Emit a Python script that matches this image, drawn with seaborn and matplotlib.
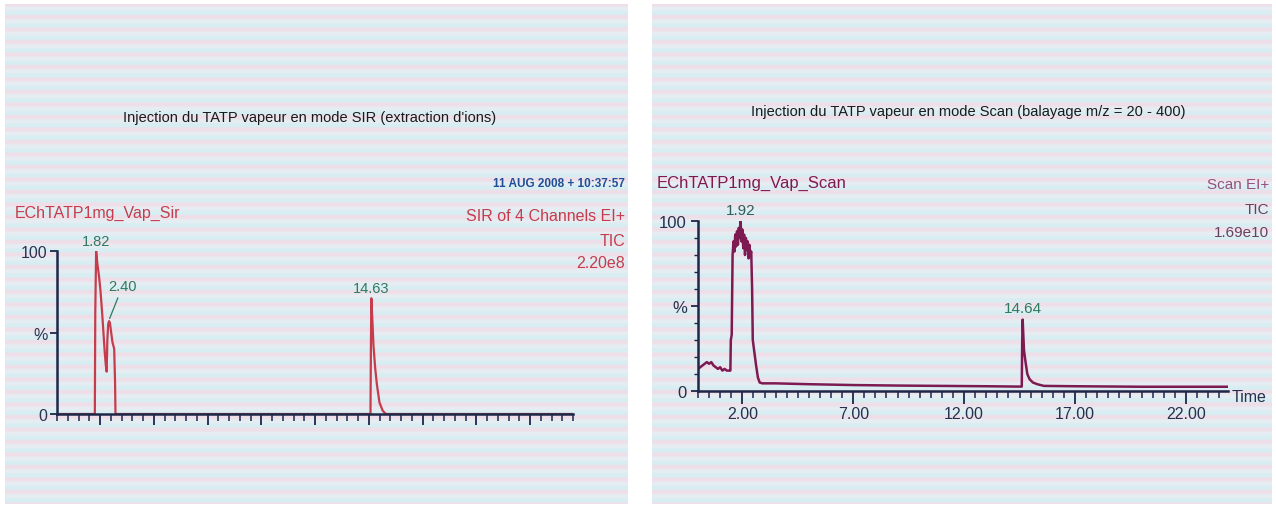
import numpy as np
import matplotlib
matplotlib.use("Agg")
import matplotlib.pyplot as plt
import seaborn as sns
import matplotlib.ticker as mticker

sns.set_style("ticks")
plt.rcParams["font.family"] = ["Liberation Sans", "DejaVu Sans"]

# SIR chromatogram (left), time in minutes and relative intensity in %
sir_time = [0.0, 1.74, 1.76, 1.78, 1.82, 1.88, 1.95, 2.02, 2.10, 2.16, 2.22, 2.27, 2.31,
            2.34, 2.38, 2.42, 2.46, 2.52, 2.58, 2.66, 2.70, 2.72, 14.58, 14.60, 14.62,
            14.66, 14.72, 14.80, 14.88, 15.00, 15.15, 15.30, 24.0]
sir_pct = [0.0, 0.0, 0.0, 62, 100, 92, 85, 76, 62, 50, 38, 30, 26,
           45, 55, 57, 56, 50, 44, 40, 20, 0.0, 0.0, 40, 71,
           60, 42, 28, 18, 7, 2, 0.0, 0.0]

# Scan chromatogram (right)
scan_time = [0.00, 0.10, 0.20, 0.30, 0.40, 0.50, 0.60, 0.70, 0.80, 0.90, 1.00, 1.10, 1.20,
             1.30, 1.40, 1.46, 1.48, 1.52, 1.56, 1.60, 1.64, 1.68, 1.72, 1.76, 1.80, 1.84,
             1.88, 1.92, 1.96, 2.00, 2.04, 2.08, 2.12, 2.16, 2.20, 2.24, 2.28, 2.32, 2.36,
             2.40, 2.44, 2.47, 2.55, 2.62, 2.70, 2.78, 2.90, 3.50, 5.00, 7.00, 9.00, 11.00,
             13.00, 14.40, 14.60, 14.62, 14.64, 14.70, 14.76, 14.85, 14.95, 15.10, 15.30,
             15.60, 17.00, 20.00, 23.90]
scan_pct = [13, 14, 15, 16, 17, 16, 17, 15, 14, 13, 14, 12, 13,
            12, 12, 12, 30, 33, 80, 88, 82, 92, 85, 94, 86, 96,
            90, 100, 88, 95, 84, 92, 80, 90, 83, 88, 78, 86, 80,
            82, 60, 30, 22, 15, 8, 5, 4.5, 4.5, 4.0, 3.5, 3.2, 3.0,
            2.8, 2.6, 2.6, 30, 42, 24, 18, 10, 7, 5, 4,
            3, 2.8, 2.5, 2.5]

sir_peaks = [(1.82, 100, "1.82"), (2.40, 57, "2.40"), (14.63, 71, "14.63")]
scan_peaks = [(1.92, 100, "1.92"), (14.64, 42, "14.64")]

scan_tick_pos = [2, 7, 12, 17, 22]
scan_tick_lab = ["2.00", "7.00", "12.00", "17.00", "22.00"]

W, H = 1276, 510
fig = plt.figure(figsize=(W / 100, H / 100), dpi=100)
fig.patch.set_facecolor("white")


def fig_rect(x0, y0, x1, y1):
    # pixel box (top-left origin) -> figure fraction rect
    return [x0 / W, 1 - y1 / H, (x1 - x0) / W, (y1 - y0) / H]


def striped_panel(x0, y0, x1, y1):
    bg = fig.add_axes(fig_rect(x0, y0, x1, y1), zorder=0)
    rows = np.arange(y1 - y0)
    ph = np.cos(2 * np.pi * rows / 12.5)
    ph2 = np.cos(2 * np.pi * rows / 12.5 + 2.1)
    cyan = np.array([0.84, 0.93, 0.95])
    pink = np.array([0.94, 0.87, 0.91])
    grey = np.array([0.90, 0.93, 0.95])
    col = (grey + (pink - grey) * np.clip(ph, 0, 1)[:, None]
           + (cyan - grey) * np.clip(ph2, 0, 1)[:, None])
    bg.imshow(col[:, None, :], aspect="auto", extent=[0, 1, 0, 1], interpolation="bilinear")
    bg.set_xlim(0, 1)
    bg.set_ylim(0, 1)
    bg.axis("off")
    return bg, (x0, y0, x1, y1)


def ptext(panel, x, y, s, **kw):
    bg, (x0, y0, x1, y1) = panel
    bg.text((x - x0) / (x1 - x0), (y1 - y) / (y1 - y0), s, transform=bg.transAxes,
            clip_on=True, va="center", **kw)


left_panel = striped_panel(5, 5, 628, 505)
right_panel = striped_panel(652, 5, 1272, 505)

axis_col = "#1d2748"
red = "#c53c4c"
maroon = "#7e1a52"
green = "#2e7a5e"

# ---------------- left : SIR ----------------
ax1 = fig.add_axes(fig_rect(57, 252, 573, 415), zorder=2)
ax1.patch.set_alpha(0)
sns.lineplot(x=sir_time, y=sir_pct, ax=ax1, color=red, lw=1.6, estimator=None, sort=False)
ax1.set_xlim(0, 24)
ax1.set_ylim(0, 100)
ax1.set_xticks(np.arange(2, 24, 2.5))
ax1.set_xticklabels([])
ax1.xaxis.set_minor_locator(mticker.MultipleLocator(0.5))
ax1.set_yticks([0, 50, 100])
ax1.set_yticklabels(["0", "%", "100"])
for s in ["top", "right"]:
    ax1.spines[s].set_visible(False)
for s in ["left", "bottom"]:
    ax1.spines[s].set_color(axis_col)
    ax1.spines[s].set_linewidth(1.8)
ax1.tick_params(axis="x", which="major", bottom=True, direction="out", length=8, width=1.3,
                color=axis_col)
ax1.tick_params(axis="x", which="minor", bottom=True, direction="out", length=5, width=1.1,
                color=axis_col)
ax1.tick_params(axis="y", left=True, direction="out", length=5, width=1.3, color=axis_col,
                labelsize=11.5, labelcolor="#2a3350", pad=2)
ax1.set_xlabel("")
ax1.set_ylabel("")
for t, v, lab in sir_peaks:
    if lab == "2.40":
        ax1.annotate(lab, xy=(t, v), xytext=(10, 20), textcoords="offset points",
                     ha="center", va="bottom", fontsize=10.5, color=green,
                     arrowprops=dict(arrowstyle="-", color=green, lw=0.9, shrinkA=1, shrinkB=2))
    else:
        ax1.annotate(lab, xy=(t, v), xytext=(0, 2), textcoords="offset points",
                     ha="center", va="bottom", fontsize=10.5, color=green, annotation_clip=False)

ptext(left_panel, 310, 118, "Injection du TATP vapeur en mode SIR (extraction d'ions)",
      ha="center", fontsize=10.5, color="#1a1a1a")
ptext(left_panel, 625, 184, "11 AUG 2008 + 10:37:57", ha="right", fontsize=8.5,
      fontweight="bold", color="#1f4f96")
ptext(left_panel, 15, 213, "EChTATP1mg_Vap_Sir", ha="left", fontsize=11.5, color=red)
ptext(left_panel, 625, 216, "SIR of 4 Channels EI+", ha="right", fontsize=11.5, color=red)
ptext(left_panel, 625, 241, "TIC", ha="right", fontsize=11.5, color=red)
ptext(left_panel, 625, 264, "2.20e8", ha="right", fontsize=11.5, color=red)

# ---------------- right : Scan ----------------
ax2 = fig.add_axes(fig_rect(698, 222, 1228, 392), zorder=2)
ax2.patch.set_alpha(0)
sns.lineplot(x=scan_time, y=scan_pct, ax=ax2, color=maroon, lw=1.8, estimator=None, sort=False)
ax2.set_xlim(0, 23.9)
ax2.set_ylim(0, 100)
ax2.set_xticks(scan_tick_pos)
ax2.set_xticklabels(scan_tick_lab)
ax2.xaxis.set_minor_locator(mticker.MultipleLocator(0.5))
ax2.set_yticks([0, 50, 100])
ax2.set_yticklabels(["0", "%", "100"])
ax2.yaxis.set_minor_locator(mticker.MultipleLocator(10))
for s in ["top", "right"]:
    ax2.spines[s].set_visible(False)
for s in ["left", "bottom"]:
    ax2.spines[s].set_color(axis_col)
    ax2.spines[s].set_linewidth(1.8)
ax2.tick_params(axis="x", which="major", bottom=True, direction="out", length=9, width=1.3,
                color=axis_col, labelsize=11.5, labelcolor="#26304c", pad=2)
ax2.tick_params(axis="x", which="minor", bottom=True, direction="out", length=5, width=1.1,
                color=axis_col)
ax2.tick_params(axis="y", which="major", left=True, direction="out", length=5, width=1.3,
                color=axis_col, labelsize=12, labelcolor="#26304c", pad=3)
ax2.tick_params(axis="y", which="minor", left=True, direction="out", length=3, width=1.0,
                color=axis_col)
ax2.set_xlabel("")
ax2.set_ylabel("")
for t, v, lab in scan_peaks:
    ax2.annotate(lab, xy=(t, v), xytext=(0, 3), textcoords="offset points",
                 ha="center", va="bottom", fontsize=11,
                 color=green if lab != "1.92" else "#2e5e5a", annotation_clip=False)

ptext(right_panel, 968, 112, "Injection du TATP vapeur en mode Scan (balayage m/z = 20 - 400)",
      ha="center", fontsize=10.5, color="#1a1a1a")
ptext(right_panel, 657, 183, "EChTATP1mg_Vap_Scan", ha="left", fontsize=12, color=maroon)
ptext(right_panel, 1269, 185, "Scan EI+", ha="right", fontsize=11, color="#95507e")
ptext(right_panel, 1269, 210, "TIC", ha="right", fontsize=11, color="#6a4060")
ptext(right_panel, 1269, 233, "1.69e10", ha="right", fontsize=11, color="#6a4060")
ptext(right_panel, 1232, 398, "Time", ha="left", fontsize=11.5, color="#26304c")

fig.savefig("out.png", dpi=100)
